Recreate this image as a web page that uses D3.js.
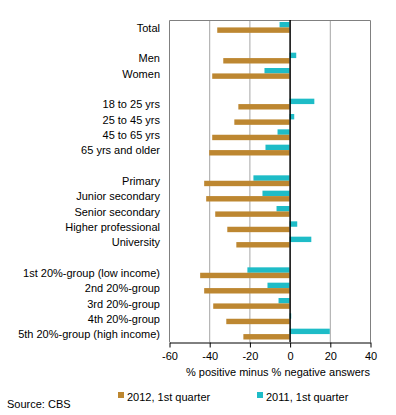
<!DOCTYPE html>
<html>
<head>
<meta charset="utf-8">
<script src="https://cdn.jsdelivr.net/npm/d3@7"></script>
<style>
  body { margin: 0; background: #fff; }
  text { font-family: "Liberation Sans", Arial, sans-serif; font-size: 11px; fill: #000; }
</style>
</head>
<body>
<svg id="chart"></svg>
<script>
// rows, blank strings are spacer rows
const categories = ["Total", "", "Men", "Women", "", "18 to 25 yrs", "25 to 45 yrs", "45 to 65 yrs", "65 yrs and older", "",
  "Primary", "Junior secondary", "Senior secondary", "Higher professional", "University", "",
  "1st 20%-group (low income)", "2nd 20%-group", "3rd 20%-group", "4th 20%-group", "5th 20%-group (high income)"];
const values2012 = [-36, null, -33, -38.5, null, -25.5, -27.5, -38.5, -40, null, -42.5, -41.5, -37, -31, -26.5, null, -44.5, -42.5, -38, -31.5, -23];
const values2011 = [-5, null, 3.3, -12.5, null, 12.3, 2.3, -6, -12, null, -18, -13.5, -6.5, 3.8, 10.8, null, -21, -11, -5.5, 0.8, 20];
const seriesNames = ["2012, 1st quarter", "2011, 1st quarter"];
const xTicks = [-60, -40, -20, 0, 20, 40];

const width = 396, height = 415;
const margin = {top: 20, right: 26, bottom: 73, left: 169};
const colors = {"2012": "#bd8731", "2011": "#1ebcc7"};

const svg = d3.select("#chart").attr("width", width).attr("height", height);
const chart = svg.append("g").attr("transform", `translate(${margin.left}, ${margin.top})`);
const innerW = width - margin.left - margin.right;
const innerH = height - margin.top - margin.bottom;

const x = d3.scaleLinear().domain([-60, 40]).range([0, innerW]);
const y = d3.scaleBand().domain(d3.range(categories.length)).range([0, innerH]);
const sub = d3.scaleBand().domain(["2011", "2012"]).range([2, y.bandwidth() - 2.5]);

// gridlines + frame
chart.selectAll(".grid").data(xTicks.filter(t => t !== 0 && t !== -60 && t !== 40)).join("line")
  .attr("x1", d => x(d) + 0.5).attr("x2", d => x(d) + 0.5)
  .attr("y1", 0).attr("y2", innerH)
  .attr("stroke", "#a6a6a6").attr("stroke-width", 1);
chart.append("path")
  .attr("d", `M0.5,${innerH}V0.5H${x(40) + 0.5}V${innerH}`)
  .attr("fill", "none").attr("stroke", "#808080").attr("stroke-width", 1);

const rows = categories.map((c, i) => ({c, i, v12: values2012[i], v11: values2011[i]})).filter(d => d.c);

chart.selectAll(".b11").data(rows).join("rect")
  .attr("x", d => x(Math.min(0, d.v11)))
  .attr("width", d => Math.abs(x(d.v11) - x(0)))
  .attr("y", d => y(d.i) + sub("2011"))
  .attr("height", sub.bandwidth())
  .attr("fill", colors["2011"]);

chart.selectAll(".b12").data(rows).join("rect")
  .attr("x", d => x(Math.min(0, d.v12)))
  .attr("width", d => Math.abs(x(d.v12) - x(0)))
  .attr("y", d => y(d.i) + sub("2012"))
  .attr("height", sub.bandwidth())
  .attr("fill", colors["2012"]);

// zero line
chart.append("line")
  .attr("x1", x(0) + 0.5).attr("x2", x(0) + 0.5)
  .attr("y1", 0).attr("y2", innerH)
  .attr("stroke", "#000").attr("stroke-width", 1.5);

// category labels
chart.selectAll(".cat").data(rows).join("text")
  .attr("x", -9)
  .attr("y", d => y(d.i) + y.bandwidth() / 2)
  .attr("dy", "0.35em")
  .attr("text-anchor", "end")
  .text(d => d.c);

// x axis
const xaxis = d3.axisBottom(x).tickValues(xTicks).tickSize(5).tickSizeOuter(0).tickPadding(5);
const xg = chart.append("g").attr("transform", `translate(0.5, ${innerH + 0.5})`).call(xaxis);
xg.select(".domain").attr("stroke", "#000");
xg.selectAll(".tick line").attr("stroke", "#000");
xg.selectAll(".tick text").attr("font-family", null).attr("font-size", null).text(d => d < 0 ? "-" + Math.abs(d) : d);

chart.append("text")
  .attr("x", innerW)
  .attr("y", innerH + 34)
  .attr("text-anchor", "end")
  .text("% positive minus % negative answers");

// legend
const legend = svg.append("g").attr("transform", "translate(0, 397)");
const legendX = [118, 257];
const legendKeys = ["2012", "2011"];
legendKeys.forEach((k, i) => {
  legend.append("rect").attr("x", legendX[i]).attr("y", -5).attr("width", 6).attr("height", 6).attr("fill", colors[k]);
  legend.append("text").attr("x", legendX[i] + 9).attr("y", 0).attr("dy", "0.35em").text(seriesNames[i]);
});

svg.append("text").attr("x", 7).attr("y", 404).attr("dy", "0.35em").text("Source: CBS");
</script>
</body>
</html>
